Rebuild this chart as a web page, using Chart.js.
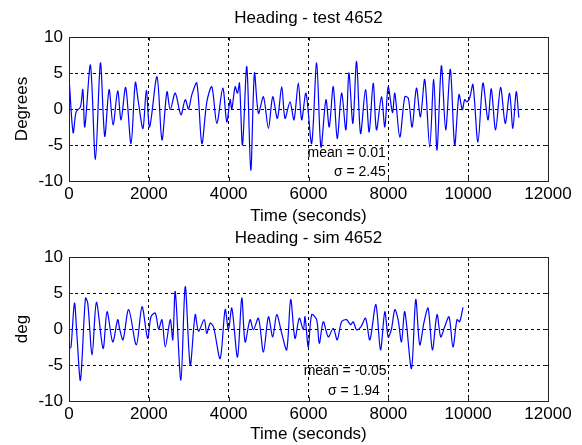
<!DOCTYPE html>
<html>
<head>
<meta charset="utf-8">
<script src="https://cdn.jsdelivr.net/npm/chart.js@4"></script>
<style>
  body { margin: 0; background: #fff; width: 582px; height: 445px; position: relative; overflow: hidden; }
  canvas { position: absolute; left: 0; }
  #testChart { top: 0; }
  #simChart { top: 220px; }
</style>
</head>
<body>
<canvas id="testChart" width="582" height="227"></canvas>
<canvas id="simChart" width="582" height="225"></canvas>
<script>
// test run: heading (deg) against time (s)
const testTime = [12, 104, 179, 287, 346, 396, 537, 662, 787, 895, 1004, 1104, 1220, 1304, 1420, 1554, 1662, 1737, 1853, 1937,
  2020, 2204, 2329, 2454, 2537, 2662, 2803, 2912, 2995, 3078, 3203, 3328, 3453, 3578, 3703, 3853, 3953, 4037, 4079, 4162,
  4221, 4271, 4346, 4454, 4554, 4646, 4746, 4871, 4996, 5104, 5221, 5329, 5412, 5537, 5637, 5745, 5829, 5937, 6079, 6204,
  6312, 6437, 6520, 6620, 6720, 6829, 6937, 7012, 7112, 7204, 7304, 7428, 7520, 7620, 7703, 7828, 7912, 7996, 8104, 8162,
  8287, 8412, 8500, 8596, 8704, 8804, 8912, 9037, 9137, 9220, 9329, 9437, 9554, 9662, 9770, 9854, 9912, 9970, 10037, 10120,
  10245, 10370, 10495, 10579, 10687, 10812, 10929, 11037, 11120, 11204, 11270];
const testHeading = [3.4, -3.3, -0.4, 0.3, 2.7, -2.5, 6.1, -7.0, 6.4, -3.8, 2.7, -2.2, 2.5, -1.5, 3.0, -4.8, 3.7, 1.0, -2.7, 2.6,
  -2.5, 4.5, -4.3, 2.4, -0.1, 2.2, -0.8, 1.3, 0.0, 2.0, 3.6, -4.8, 1.0, 3.1, -2.0, 2.9, -1.8, 1.3, 0.0, 3.1,
  2.2, 3.6, -5.0, 5.9, -8.5, 5.0, -0.6, 1.7, -2.7, 1.7, -1.3, 3.1, -1.3, 1.0, -1.5, 3.6, -1.5, 2.2, -4.8, 6.4,
  -5.3, 1.3, -2.5, 3.1, -4.1, 2.2, -2.9, 5.0, -2.0, 6.6, -3.4, 2.7, -3.2, 3.6, -2.9, 1.7, -2.5, 3.1, -0.5, 2.2,
  -3.9, 1.7, 1.5, -2.5, 2.9, -1.1, 4.1, -5.3, 4.1, -5.7, 6.0, -2.9, 5.5, -5.0, 2.0, -0.1, 1.3, 1.0, 1.5, 3.4,
  -4.6, 3.6, -1.5, 2.8, -2.9, 3.0, -2.0, 2.2, -2.7, 2.4, -1.2];

// simulation: heading (deg) against time (s)
const simTime = [12, 50, 137, 200, 287, 412, 470, 579, 687, 854, 954, 1096, 1220, 1270, 1354, 1495, 1687, 1829, 1970, 2054,
  2162, 2245, 2329, 2412, 2537, 2600, 2662, 2803, 2912, 3037, 3162, 3245, 3387, 3450, 3537, 3620, 3787, 3912, 3995, 4079,
  4221, 4329, 4412, 4537, 4620, 4746, 4871, 4996, 5104, 5204, 5329, 5454, 5554, 5662, 5770, 5870, 5912, 5995, 6079, 6204,
  6270, 6370, 6495, 6620, 6720, 6829, 6954, 7054, 7120, 7204, 7312, 7428, 7537, 7687, 7804, 7912, 7996, 8079, 8162, 8245,
  8329, 8412, 8579, 8687, 8787, 8896, 8996, 9104, 9220, 9312, 9412, 9520, 9620, 9720, 9787, 9870];
const simHeading = [-2.7, -2.5, 3.6, -1.0, -7.1, 4.3, 3.6, -3.6, 3.7, -2.7, 2.4, -1.8, 1.3, 0.0, -1.5, 2.7, -2.2, 3.1, -1.3, 1.7,
  2.2, 0.0, 1.3, -2.5, 1.3, -1.5, 5.2, -7.1, 5.9, -5.0, 2.0, -0.3, 1.3, -0.6, 0.8, 0.3, -4.1, 2.7, -0.1, 2.9,
  -3.9, 4.3, -1.8, 1.3, -0.1, 1.5, -3.2, 1.7, -1.1, 2.0, -0.6, -2.9, 4.1, -1.3, 1.5, -0.1, 1.7, -2.5, 2.0, 1.3,
  -2.0, 1.0, -1.1, 0.1, -1.5, 1.0, 1.3, 0.6, 1.0, -0.1, 0.3, 1.5, -1.5, 3.4, -2.9, 2.4, -1.1, 0.0, 2.7, 1.3,
  -1.8, 2.4, -5.5, 4.1, -2.2, 1.0, 2.9, -2.9, 2.0, -1.1, 0.3, 1.7, -2.5, 1.3, 1.0, 3.0];

const xTicks = [0, 2000, 4000, 6000, 8000, 10000, 12000];
const yTicks = [-10, -5, 0, 5, 10];

Chart.defaults.font.family = 'Arial, "Liberation Sans", sans-serif';
Chart.defaults.font.size = 17;
Chart.defaults.color = '#000';

// axes box, inward tick marks, title over the plot box and the mean / sigma text
const frame = {
  id: 'frame',
  afterDraw(chart, args, opts) {
    const { ctx, chartArea: a, scales: { x, y } } = chart;
    ctx.save();
    ctx.strokeStyle = '#222';
    ctx.lineWidth = 1;
    ctx.beginPath();
    xTicks.forEach(v => {
      const px = Math.round(x.getPixelForValue(v)) + 0.5;
      ctx.moveTo(px, a.bottom); ctx.lineTo(px, a.bottom - 4);
      ctx.moveTo(px, a.top); ctx.lineTo(px, a.top + 4);
    });
    yTicks.forEach(v => {
      const py = Math.round(y.getPixelForValue(v)) + 0.5;
      ctx.moveTo(a.left, py); ctx.lineTo(a.left + 4, py);
      ctx.moveTo(a.right, py); ctx.lineTo(a.right - 4, py);
    });
    ctx.stroke();
    ctx.strokeRect(Math.round(a.left) + 0.5, Math.round(a.top) + 0.5,
      Math.round(a.right - a.left), Math.round(a.bottom - a.top));

    ctx.fillStyle = '#000';
    ctx.textBaseline = 'middle';
    ctx.textAlign = 'center';
    ctx.font = '17px Arial, "Liberation Sans", sans-serif';
    ctx.fillText(opts.title, (a.left + a.right) / 2, a.top - 18.5);

    ctx.font = '14px Arial, "Liberation Sans", sans-serif';
    ctx.textAlign = 'right';
    opts.notes.forEach(n => {
      ctx.fillText(n.text, x.getPixelForValue(n.x), y.getPixelForValue(n.y));
    });
    ctx.restore();
  }
};

function makeChart(id, title, yLabel, times, values, notes, height) {
  return new Chart(document.getElementById(id), {
    type: 'line',
    data: {
      datasets: [{
        data: times.map((t, i) => ({ x: t, y: values[i] })),
        borderColor: '#0000ff',
        borderWidth: 1.2,
        pointRadius: 0,
        tension: 0.3
      }]
    },
    options: {
      responsive: false,
      animation: false,
      layout: { padding: { left: 0, right: 34, top: 37, bottom: 0 } },
      plugins: {
        legend: { display: false },
        tooltip: { enabled: false },
        title: { display: false },
        frame: { title: title, notes: notes }
      },
      scales: {
        x: {
          type: 'linear', min: 0, max: 12000,
          afterBuildTicks: s => { s.ticks = xTicks.map(v => ({ value: v })); },
          afterFit: s => { s.height = height - 181; },
          ticks: { padding: 3, maxRotation: 0, autoSkip: false, callback: v => String(v) },
          grid: { color: '#000', lineWidth: 1, drawTicks: false },
          border: { display: false, dash: [3, 3] },
          title: { display: true, text: 'Time (seconds)', padding: { top: 0, bottom: 0 } }
        },
        y: {
          min: -10, max: 10,
          afterBuildTicks: s => { s.ticks = yTicks.map(v => ({ value: v })); },
          afterFit: s => { s.width = 69; },
          ticks: { padding: 6, callback: v => String(v) },
          grid: { color: '#000', lineWidth: 1, drawTicks: false },
          border: { display: false, dash: [3, 3] },
          title: { display: true, text: yLabel, padding: { top: 12, bottom: 0 } }
        }
      }
    },
    plugins: [frame]
  });
}

makeChart('testChart', 'Heading - test 4652', 'Degrees', testTime, testHeading, [
  { text: 'mean = 0.01', x: 7937, y: -6.2 },
  { text: 'σ = 2.45', x: 7937, y: -8.8 }
], 227);

makeChart('simChart', 'Heading - sim 4652', 'deg', simTime, simHeading, [
  { text: 'mean = -0.05', x: 7955, y: -5.8 },
  { text: 'σ = 1.94', x: 7787, y: -8.6 }
], 225);
</script>
</body>
</html>
